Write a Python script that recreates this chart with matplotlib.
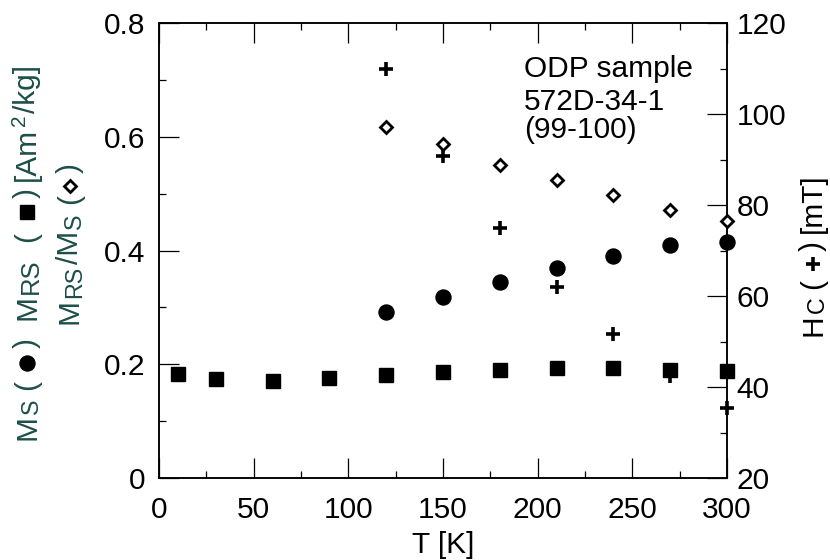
import matplotlib
matplotlib.use('Agg')
import matplotlib.pyplot as plt
from matplotlib.lines import Line2D
from matplotlib.transforms import IdentityTransform
from matplotlib.ticker import MultipleLocator

plt.rcParams['font.family'] = ['Liberation Sans', 'DejaVu Sans']
plt.rcParams['mathtext.fontset'] = 'custom'
plt.rcParams['mathtext.rm'] = 'Liberation Sans'
plt.rcParams['mathtext.it'] = 'Liberation Sans:italic'
plt.rcParams['mathtext.bf'] = 'Liberation Sans:bold'

# ---------------- data ----------------
T_ms = [120, 150, 180, 210, 240, 270, 300]
Ms = [0.292, 0.318, 0.345, 0.369, 0.391, 0.409, 0.415]

T_mrs = [10, 30, 60, 90, 120, 150, 180, 210, 240, 270, 300]
Mrs = [0.183, 0.174, 0.171, 0.176, 0.181, 0.186, 0.190, 0.193, 0.193, 0.190, 0.188]

T_ratio = [120, 150, 180, 210, 240, 270, 300]
ratio = [0.617, 0.587, 0.550, 0.524, 0.498, 0.471, 0.451]

T_hc = [120, 150, 180, 210, 240, 270, 300]
Hc = [109.9, 90.8, 75.0, 62.0, 51.6, 42.5, 35.4]

x_ticks = [0, 50, 100, 150, 200, 250, 300]
y_ticks = [0, 0.2, 0.4, 0.6, 0.8]
y_ticklabels = ['0', '0.2', '0.4', '0.6', '0.8']
y2_ticks = [20, 40, 60, 80, 100, 120]
sample_lines = ['ODP sample', '572D-34-1', '(99-100)']

# ---------------- figure ----------------
W, H = 830, 560
FS = 21.5
TEAL = '#1d4e48'
fig = plt.figure(figsize=(W / 100, H / 100), dpi=100)
L, R, B, Tp = 159, 727, 478, 23
ax = fig.add_axes([L / W, 1 - B / H, (R - L) / W, (B - Tp) / H])
ax2 = ax.twinx()
ax.set_zorder(ax2.get_zorder() + 1)
ax.patch.set_visible(False)

ax.set_xlim(0, 300)
ax.set_ylim(0, 0.8)
ax2.set_ylim(20, 120)

for a in (ax, ax2):
    for s in a.spines.values():
        s.set_linewidth(1.1)

ax.set_xticks(x_ticks)
ax.xaxis.set_minor_locator(MultipleLocator(25))
ax.set_yticks(y_ticks)
ax.set_yticklabels(y_ticklabels)
ax.yaxis.set_minor_locator(MultipleLocator(0.1))
ax2.set_yticks(y2_ticks)
ax2.yaxis.set_minor_locator(MultipleLocator(10))

ax.tick_params(axis='x', which='both', direction='in', top=True, bottom=True,
               labelsize=FS, pad=13, width=0.9)
ax.tick_params(axis='y', which='both', direction='in', left=True, right=False,
               labelsize=FS, pad=10, width=0.9)
ax.tick_params(which='major', length=14.5)
ax.tick_params(which='minor', length=5)
ax2.tick_params(axis='y', which='both', direction='in', right=True, left=False,
                labelsize=FS, pad=7, width=0.9)
ax2.tick_params(which='major', length=14.5)
ax2.tick_params(which='minor', length=5)

# ---------------- data marks ----------------
ax2.plot(T_hc, Hc, linestyle='none', marker='+', ms=9.5, mew=2.6,
         color='black', clip_on=False, zorder=3)
ax.plot(T_ratio, ratio, linestyle='none', marker='D', ms=5.8, mew=2.0,
        mfc='white', mec='black', clip_on=False, zorder=3)
ax.plot(T_ms, Ms, linestyle='none', marker='o', ms=10.8,
        color='black', clip_on=False, zorder=3)
ax.plot(T_mrs, Mrs, linestyle='none', marker='s', ms=10,
        color='black', clip_on=False, zorder=4)

# sample annotation
for txt, base in zip(sample_lines, [77, 110, 138]):
    ax.text(524, H - base, txt, transform=IdentityTransform(), fontsize=FS,
            ha='left', va='baseline', color='black')

# x label
fig.text((L + R) / 2 / W, 1 - 553 / H, 'T [K]', fontsize=FS, ha='center',
         va='baseline')

# ---------------- composite vertical labels ----------------
renderer = fig.canvas.get_renderer()
SUB = 0.78


def vlabel(xb, groups, markers, color):
    """Rotated label built from pieces; xb = baseline x (px).
    groups: (start y from top, [(text, scale, dx), ...]) laid out upward."""
    for y0, pieces in groups:
        y = H - y0
        for txt, scale, dx in pieces:
            t = fig.text(xb + dx, y, txt, transform=IdentityTransform(),
                         fontsize=FS * scale, color=color, rotation=90,
                         rotation_mode='anchor', ha='left', va='baseline')
            y += t.get_window_extent(renderer).height + 1.5
    for yc, style in markers:
        fig.add_artist(Line2D([xb - 8], [H - yc], transform=IdentityTransform(),
                              linestyle='none', **style))


circ = dict(marker='o', ms=10.8, color='black')
sq = dict(marker='s', ms=10, color='black')
dia = dict(marker='D', ms=5.8, mew=2.0, mfc='white', mec='black')
plus = dict(marker='+', ms=9.5, mew=2.6, color='black')

vlabel(35,
       [(440, [('M', 1, 0), ('S', SUB, 3)]),
        (390, [('(', 1, 0)]),
        (348, [(')', 1, 0)]),
        (320, [('M', 1, 0), ('RS', 0.86, 3)]),
        (242, [('(', 1, 0)]),
        (198, [(')', 1, 0)]),
        (181, [('[Am', 1, 0), ('2', 0.7, -10), ('/kg]', 1, 0)])],
       [(363, circ), (212, sq)], TEAL)
vlabel(78,
       [(324, [('M', 1, 0), ('RS', SUB, 3), ('/M', 1, 0), ('S', SUB, 3)]),
        (204, [('(', 1, 0)]),
        (173, [(')', 1, 0)])],
       [(186, dia)], TEAL)
vlabel(821,
       [(336, [('H', 1, 0), ('C', SUB, 3)]),
        (289, [('(', 1, 0)]),
        (251, [(')', 1, 0)]),
        (233, [('[mT]', 1, 0)])],
       [(264, plus)], 'black')

fig.savefig('out.png', dpi=100)
